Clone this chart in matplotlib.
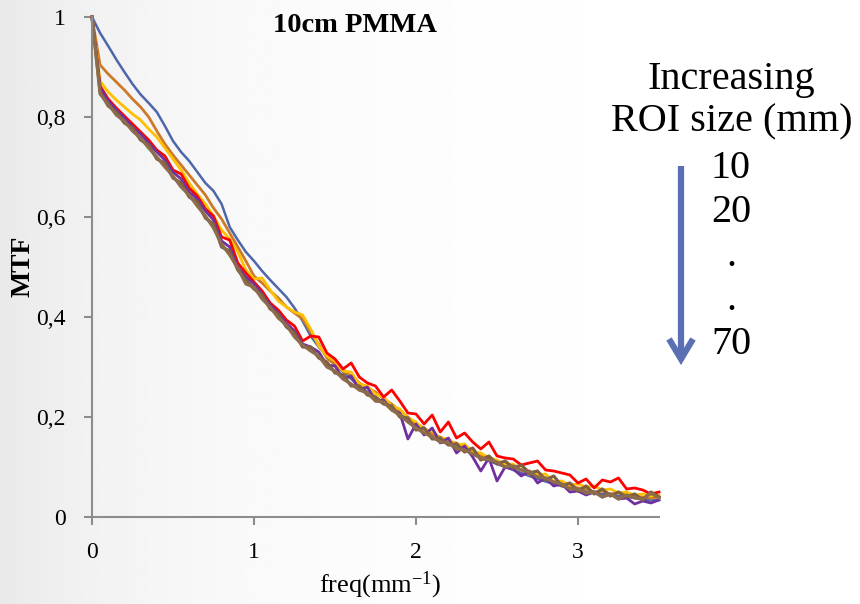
import numpy as np
import matplotlib
matplotlib.use("Agg")
import matplotlib.pyplot as plt
from matplotlib.ticker import FuncFormatter
from matplotlib.lines import Line2D

plt.rcParams['font.family'] = ['Liberation Serif', 'DejaVu Serif']
plt.rcParams['mathtext.default'] = 'regular'

# spatial frequency grid (mm^-1), step 0.05
freq = np.round(np.arange(0, 3.5001, 0.05), 2)

# MTF per ROI size (mm)
mtf_10 = [1.000, 0.968, 0.942, 0.915, 0.890, 0.866, 0.845, 0.828, 0.810, 0.782,
          0.752, 0.730, 0.712, 0.690, 0.668, 0.652, 0.626, 0.580, 0.554, 0.530,
          0.512, 0.492, 0.474, 0.457, 0.440, 0.418, 0.392, 0.362, 0.340, 0.322,
          0.305, 0.290, 0.276, 0.262, 0.250, 0.240, 0.228, 0.216, 0.206, 0.196,
          0.186, 0.176, 0.166, 0.158, 0.150, 0.142, 0.134, 0.126, 0.118, 0.112,
          0.106, 0.100, 0.094, 0.088, 0.082, 0.076, 0.071, 0.066, 0.062, 0.058,
          0.054, 0.051, 0.048, 0.046, 0.044, 0.042, 0.040, 0.038, 0.035, 0.033,
          0.034]
mtf_20 = [1.000, 0.904, 0.886, 0.870, 0.854, 0.836, 0.820, 0.800, 0.772, 0.746,
          0.724, 0.704, 0.684, 0.664, 0.644, 0.618, 0.596, 0.568, 0.540, 0.512,
          0.482, 0.468, 0.452, 0.438, 0.420, 0.408, 0.396, 0.370, 0.345, 0.318,
          0.305, 0.292, 0.282, 0.268, 0.258, 0.250, 0.236, 0.226, 0.212, 0.200,
          0.186, 0.178, 0.166, 0.160, 0.150, 0.148, 0.138, 0.132, 0.122, 0.118,
          0.110, 0.106, 0.100, 0.094, 0.086, 0.082, 0.076, 0.070, 0.064, 0.062,
          0.058, 0.056, 0.050, 0.052, 0.046, 0.048, 0.044, 0.042, 0.040, 0.038,
          0.040]
mtf_30 = [1.000, 0.872, 0.850, 0.834, 0.820, 0.806, 0.794, 0.776, 0.760, 0.738,
          0.716, 0.694, 0.668, 0.646, 0.626, 0.602, 0.574, 0.556, 0.530, 0.494,
          0.476, 0.478, 0.454, 0.432, 0.420, 0.410, 0.404, 0.376, 0.342, 0.322,
          0.312, 0.292, 0.290, 0.266, 0.262, 0.246, 0.240, 0.222, 0.216, 0.198,
          0.190, 0.174, 0.172, 0.158, 0.156, 0.144, 0.146, 0.130, 0.128, 0.118,
          0.114, 0.104, 0.106, 0.094, 0.092, 0.084, 0.086, 0.070, 0.072, 0.064,
          0.066, 0.060, 0.062, 0.054, 0.056, 0.048, 0.050, 0.044, 0.046, 0.042,
          0.044]
mtf_40 = [1.000, 0.862, 0.836, 0.818, 0.802, 0.786, 0.770, 0.754, 0.734, 0.722,
          0.694, 0.686, 0.658, 0.642, 0.616, 0.602, 0.560, 0.554, 0.508, 0.488,
          0.470, 0.452, 0.428, 0.414, 0.394, 0.382, 0.352, 0.362, 0.360, 0.328,
          0.316, 0.296, 0.308, 0.280, 0.268, 0.262, 0.240, 0.254, 0.232, 0.208,
          0.206, 0.186, 0.204, 0.170, 0.190, 0.158, 0.168, 0.150, 0.136, 0.150,
          0.122, 0.118, 0.116, 0.104, 0.108, 0.112, 0.094, 0.092, 0.088, 0.084,
          0.068, 0.076, 0.058, 0.074, 0.070, 0.078, 0.056, 0.058, 0.054, 0.046,
          0.050]
mtf_50 = [1.000, 0.858, 0.832, 0.814, 0.798, 0.780, 0.766, 0.748, 0.730, 0.714,
          0.690, 0.676, 0.650, 0.636, 0.612, 0.594, 0.552, 0.540, 0.500, 0.480,
          0.466, 0.446, 0.424, 0.408, 0.388, 0.372, 0.346, 0.340, 0.330, 0.304,
          0.302, 0.276, 0.282, 0.254, 0.260, 0.232, 0.234, 0.214, 0.208, 0.156,
          0.186, 0.164, 0.178, 0.148, 0.158, 0.128, 0.142, 0.120, 0.092, 0.118,
          0.072, 0.100, 0.096, 0.082, 0.092, 0.068, 0.078, 0.062, 0.066, 0.050,
          0.052, 0.044, 0.050, 0.040, 0.046, 0.036, 0.038, 0.026, 0.032, 0.028,
          0.034]
mtf_60 = [1.000, 0.850, 0.822, 0.810, 0.788, 0.778, 0.754, 0.744, 0.716, 0.708,
          0.678, 0.668, 0.640, 0.630, 0.598, 0.586, 0.540, 0.532, 0.494, 0.474,
          0.456, 0.444, 0.416, 0.406, 0.380, 0.368, 0.340, 0.340, 0.318, 0.310,
          0.288, 0.284, 0.262, 0.262, 0.244, 0.240, 0.226, 0.222, 0.200, 0.198,
          0.174, 0.178, 0.156, 0.158, 0.144, 0.146, 0.130, 0.138, 0.114, 0.122,
          0.106, 0.112, 0.098, 0.104, 0.088, 0.092, 0.074, 0.082, 0.062, 0.068,
          0.052, 0.062, 0.046, 0.056, 0.042, 0.050, 0.040, 0.046, 0.034, 0.050,
          0.040]
mtf_70 = [1.000, 0.846, 0.826, 0.804, 0.792, 0.772, 0.758, 0.738, 0.720, 0.700,
          0.682, 0.660, 0.644, 0.622, 0.602, 0.578, 0.546, 0.524, 0.498, 0.466,
          0.460, 0.436, 0.420, 0.398, 0.384, 0.360, 0.344, 0.332, 0.322, 0.300,
          0.292, 0.276, 0.266, 0.254, 0.248, 0.232, 0.230, 0.214, 0.204, 0.190,
          0.178, 0.168, 0.160, 0.150, 0.148, 0.136, 0.134, 0.126, 0.118, 0.114,
          0.110, 0.100, 0.102, 0.094, 0.090, 0.080, 0.078, 0.070, 0.066, 0.056,
          0.056, 0.048, 0.050, 0.040, 0.046, 0.036, 0.044, 0.038, 0.036, 0.048,
          0.038]

roi_labels = ["10", "20", ".", ".", "70"]

fig = plt.figure(figsize=(8.6, 6.04), dpi=100)

# soft grey gradient on the left, like the slide background
bg = fig.add_axes([0, 0, 1, 1], zorder=-1)
gx = np.linspace(0, 1, 400)
gy = np.linspace(0, 1, 300)
GX, GY = np.meshgrid(gx, gy)
shade = 0.915 + 0.085 * (1 - np.exp(-GX / 0.22))
bg.imshow(shade, cmap='gray', vmin=0, vmax=1, aspect='auto', extent=[0, 1, 0, 1])
bg.axis('off')

ax = fig.add_axes([92/860, 87/604, 567/860, 500/604])
ax.set_facecolor('none')

series = [
    (mtf_10, '#4E66AA', 1.8),
    (mtf_20, '#CC7A2A', 2.0),
    (mtf_30, '#FFC000', 2.0),
    (mtf_40, '#FF0000', 2.0),
    (mtf_50, '#7030A0', 2.0),
    (mtf_60, '#7F5F3F', 2.3),
    (mtf_70, '#8C6C4C', 2.3),
]
for vals, col, lw in series:
    ax.plot(freq, vals, color=col, lw=lw, clip_on=False)

ax.set_xlim(0, 3.5)
ax.set_ylim(0, 1)
ax.set_xticks([0, 1, 2, 3])
ax.set_yticks([0, 0.2, 0.4, 0.6, 0.8, 1])
ax.yaxis.set_major_formatter(FuncFormatter(lambda v, p: ('%g' % v).replace('.', ',')))
for s in ['top', 'right']:
    ax.spines[s].set_visible(False)
for s in ['left', 'bottom']:
    ax.spines[s].set_color('#8C8C8C')
    ax.spines[s].set_linewidth(1.5)
ax.tick_params(axis='both', colors='#8C8C8C', width=1.5, length=6, labelsize=17, labelcolor='black')
ax.tick_params(axis='x', pad=12)
ax.tick_params(axis='y', pad=13)

fig.text(355/860, 1 - 25/604, "10cm PMMA", fontsize=20.5, fontweight='bold', ha='center', va='center')
fig.text(23/860, 1 - 266/604, "MTF", fontsize=20, fontweight='bold', rotation=90, ha='center', va='center')
fig.text(380/860, 1 - 585/604, "freq(mm$^{-1}$)", fontsize=19, ha='center', va='center')

# annotation on the right
fig.text(731/860, 1 - 80/604, "Increasing", fontsize=29, ha='center', va='center')
fig.text(732/860, 1 - 122/604, "ROI size (mm)", fontsize=29, ha='center', va='center')
fig.text(731/860, 1 - 150/604, "\n".join(roi_labels), fontsize=29, ha='center', va='top',
         multialignment='center', linespacing=1.25)

# arrow: straight shaft with an open chevron head
arrow_col = '#5B70B3'
fig.add_artist(Line2D([681/860, 681/860], [1 - 166/604, 1 - 358/604],
                      color=arrow_col, lw=4.5, solid_capstyle='butt'))
fig.add_artist(Line2D([669/860, 681/860, 693/860],
                      [1 - 339/604, 1 - 359/604, 1 - 339/604],
                      color=arrow_col, lw=4.5, solid_capstyle='butt',
                      solid_joinstyle='miter'))

fig.savefig("out.png", dpi=100)
